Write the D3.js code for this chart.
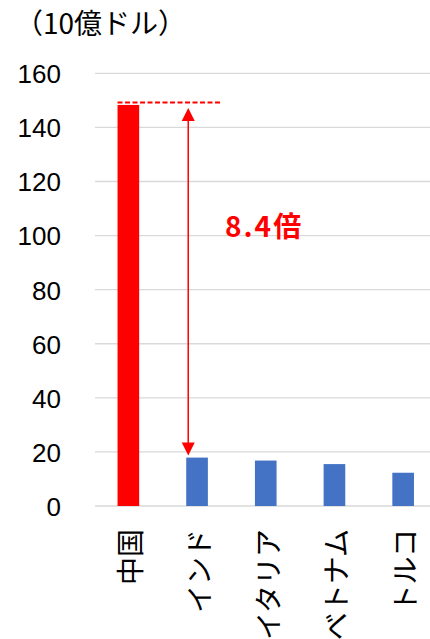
<!DOCTYPE html>
<html><head><meta charset="utf-8">
<script src="https://cdn.jsdelivr.net/npm/d3@7"></script>
<style>body{margin:0;background:#fff}svg{display:block}</style>
</head><body>
<script>
const categories = ["中国", "インド", "イタリア", "ベトナム", "トルコ"];
const values = [148.3, 17.9, 16.8, 15.5, 12.3];
const barColors = ["#ff0000", "#4472c4", "#4472c4", "#4472c4", "#4472c4"];
const yTicks = [0, 20, 40, 60, 80, 100, 120, 140, 160];
const unitLabel = "（10億ドル）";
const ratioLabel = "8.4倍";

(function () {
const W = 430, H = 639;
const svg = d3.select("body").append("svg").attr("width", W).attr("height", H);
const x = d3.scaleBand().domain(categories).range([94, 437.5]).paddingInner(0.685).paddingOuter(0.3425);
const y = d3.scaleLinear().domain([0, 160]).range([506, 73.3]);
const jp = "'Noto Sans CJK JP', sans-serif";
const num = "'Liberation Sans', Arial, sans-serif";

// gridlines
svg.append("g").selectAll("line").data(yTicks).join("line")
  .attr("x1", 95).attr("x2", 430)
  .attr("y1", d => y(d)).attr("y2", d => y(d))
  .attr("stroke", "#d9d9d9").attr("stroke-width", 1.3);

// y axis labels
const yAxis = d3.axisLeft(y).tickValues(yTicks).tickSize(0).tickPadding(0).tickFormat(d3.format("d"));
const ga = svg.append("g").attr("transform", "translate(61,0)").call(yAxis);
ga.select(".domain").remove();
ga.selectAll("text").attr("font-family", num).attr("font-size", 26).attr("fill", "#000").attr("dy", "0.36em");

// bars
svg.append("g").selectAll("rect").data(values).join("rect")
  .attr("x", (d, i) => x(categories[i]))
  .attr("width", x.bandwidth())
  .attr("y", d => y(d))
  .attr("height", d => y(0) - y(d))
  .attr("fill", (d, i) => barColors[i]);

// category labels
svg.append("g").selectAll("text").data(categories).join("text")
  .attr("transform", d => `translate(${x(d) + x.bandwidth() / 2 + 1},529) rotate(-90)`)
  .attr("text-anchor", "end").attr("dominant-baseline", "central")
  .attr("font-family", jp).attr("font-size", 28).attr("fill", "#000")
  .text(d => d);

// title
svg.append("text").attr("x", 15).attr("y", 34).attr("font-family", jp).attr("font-size", 28)
  .attr("fill", "#000").text(unitLabel);

// dashed line at China top
const ax = x(categories[1]) + 2;
svg.append("line").attr("x1", x(categories[0])).attr("x2", 221)
  .attr("y1", y(values[0]) - 2.5).attr("y2", y(values[0]) - 2.5)
  .attr("stroke", "#ff0000").attr("stroke-width", 2).attr("stroke-dasharray", "5,2.5");

// double arrow
const yTop = y(values[0]) + 3, yBot = y(values[1]) - 2;
svg.append("line").attr("x1", ax).attr("x2", ax).attr("y1", yTop + 12).attr("y2", yBot - 12)
  .attr("stroke", "#ff0000").attr("stroke-width", 1.5);
svg.append("path").attr("d", `M${ax},${yTop} L${ax - 6.5},${yTop + 13} L${ax + 6.5},${yTop + 13} Z`).attr("fill", "#ff0000");
svg.append("path").attr("d", `M${ax},${yBot} L${ax - 6.5},${yBot - 13} L${ax + 6.5},${yBot - 13} Z`).attr("fill", "#ff0000");

svg.append("text").attr("x", 225).attr("y", 237).attr("font-family", jp).attr("font-weight", "bold")
  .attr("font-size", 28).attr("letter-spacing", 2).attr("fill", "#ff0000").text(ratioLabel);
})();
</script>
</body></html>
